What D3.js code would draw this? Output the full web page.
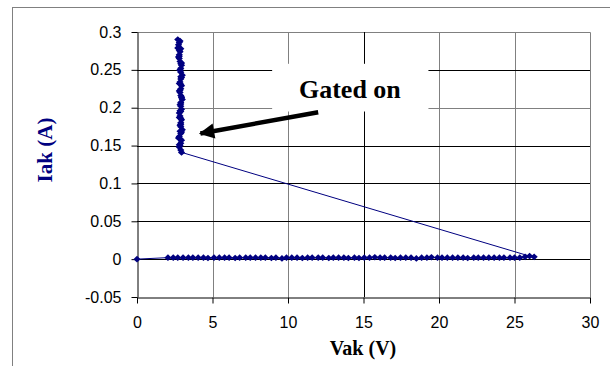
<!DOCTYPE html>
<html>
<head>
<meta charset="utf-8">
<script src="https://cdn.jsdelivr.net/npm/d3@7"></script>
<style>
  body { margin: 0; background: #fff; }
  svg { display: block; }
</style>
</head>
<body>
<svg id="chart" width="610" height="366"></svg>
<script>
// off-state sweep, then gated on (vertical cluster)
let offVak = [0, 2.05, 2.4, 2.7, 3.05, 3.4, 3.7, 4.05, 4.4, 4.7, 5.1, 5.45, 5.8, 6.1, 6.5, 6.8, 7.2, 7.5,
    7.85, 8.2, 8.5, 8.9, 9.2, 9.6, 9.9, 10.25, 10.6, 10.95, 11.3, 11.6, 12.0, 12.3, 12.7, 13.0, 13.35,
    13.7, 14.0, 14.4, 14.7, 15.05, 15.4, 15.75, 16.1, 16.4, 16.8, 17.1, 17.45, 17.8, 18.15, 18.5, 18.85,
    19.2, 19.5, 19.9, 20.2, 20.55, 20.9, 21.25, 21.6, 21.9, 22.3, 22.6, 22.95, 23.3, 23.65, 24.0, 24.3,
    24.7, 25.0, 25.35, 25.7, 26.3, 26.0];
let offIak = [0, 0.002, 0.002, 0.002, 0.002, 0.002, 0.002, 0.002, 0.002, 0.0015, 0.002, 0.002, 0.002, 0.002,
    0.0015, 0.002, 0.002, 0.002, 0.002, 0.002, 0.002, 0.0015, 0.002, 0.001, 0.002, 0.002, 0.002, 0.0015,
    0.002, 0.002, 0.002, 0.002, 0.0015, 0.002, 0.002, 0.002, 0.0015, 0.002, 0.0015, 0.002, 0.002, 0.0025,
    0.002, 0.002, 0.002, 0.0015, 0.002, 0.002, 0.002, 0.001, 0.002, 0.002, 0.0025, 0.002, 0.002, 0.002,
    0.002, 0.002, 0.002, 0.0015, 0.002, 0.002, 0.002, 0.002, 0.002, 0.002, 0.002, 0.002, 0.002, 0.002,
    0.003, 0.003, 0.004];
let onVak = [2.95, 2.9, 2.8, 2.85, 2.9, 2.95, 2.85, 2.8, 2.9, 2.95, 3.0, 2.9, 2.85, 2.9, 2.95, 2.9, 2.85,
    2.8, 2.9, 2.95, 2.9, 2.85, 2.9, 3.0, 2.95, 2.9, 2.85, 2.8, 2.9, 2.95, 2.9, 2.85, 2.9, 2.95, 3.0, 2.9,
    2.85, 2.9, 2.95, 2.9, 2.85, 2.8, 2.75, 2.8, 2.85, 2.8, 2.7, 2.75, 2.8, 2.7,
    2.85, 2.9, 2.8, 2.95, 2.85, 2.9, 2.8, 2.85, 2.95, 2.9, 2.85, 2.8, 2.9, 2.85, 2.75, 2.8];
let onIak = [0.141, 0.144, 0.148, 0.150, 0.153, 0.157, 0.159, 0.162, 0.166, 0.168, 0.171, 0.175, 0.177,
    0.180, 0.184, 0.186, 0.189, 0.193, 0.195, 0.198, 0.202, 0.204, 0.207, 0.211, 0.213, 0.216, 0.220,
    0.222, 0.225, 0.229, 0.231, 0.234, 0.238, 0.240, 0.243, 0.247, 0.249, 0.252, 0.256, 0.258, 0.261,
    0.265, 0.267, 0.270, 0.274, 0.276, 0.279, 0.283, 0.286, 0.290,
    0.288, 0.278, 0.268, 0.259, 0.250, 0.241, 0.232, 0.223, 0.214, 0.205, 0.196, 0.187, 0.178, 0.169,
    0.160, 0.151];

let xTicks = [0, 5, 10, 15, 20, 25, 30];
let yTicks = [-0.05, 0, 0.05, 0.1, 0.15, 0.2, 0.25, 0.3];

let data = offVak.map(function(v, i) { return {v: v, i: offIak[i]}; })
    .concat(onVak.map(function(v, i) { return {v: v, i: onIak[i]}; }));

let svg = d3.select("#chart"),
    pLeft = 137, pRight = 590, pTop = 32, pBottom = 297;

let x = d3.scaleLinear().domain([0, 30]).range([pLeft, pRight]),
    y = d3.scaleLinear().domain([-0.05, 0.3]).range([pBottom, pTop]);

// outer chart border
svg.append("rect")
    .attr("x", 12.5).attr("y", 7.5)
    .attr("width", 700).attr("height", 500)
    .attr("fill", "none")
    .attr("stroke", "#808080");

// plot area frame (top / right)
svg.append("path")
    .attr("d", "M" + pLeft + "," + (pTop + 0.5) + "H" + (pRight + 0.5) + "V" + pBottom)
    .attr("fill", "none")
    .attr("stroke", "#808080");

// grid lines
let greyX = [5, 10, 20, 25], greyY = [0.2];
svg.append("g").selectAll("line")
    .data(xTicks.slice(1, -1))
    .enter().append("line")
    .attr("x1", function(d) { return Math.round(x(d)) + 0.5; })
    .attr("x2", function(d) { return Math.round(x(d)) + 0.5; })
    .attr("y1", pTop).attr("y2", pBottom)
    .attr("stroke", function(d) { return greyX.includes(d) ? "#808080" : "#000"; });

svg.append("g").selectAll("line")
    .data(yTicks.slice(1, -1))
    .enter().append("line")
    .attr("x1", pLeft).attr("x2", pRight)
    .attr("y1", function(d) { return Math.round(y(d)) + 0.5; })
    .attr("y2", function(d) { return Math.round(y(d)) + 0.5; })
    .attr("stroke", function(d) { return greyY.includes(d) ? "#808080" : "#000"; });

// axes
let fmt = function(d) { return String(+d.toFixed(2)); };

let xAxis = svg.append("g")
    .attr("transform", "translate(0," + (pBottom + 0.5) + ")")
    .call(d3.axisBottom(x).tickValues(xTicks).tickSize(6).tickPadding(13).tickSizeOuter(0));

let yAxis = svg.append("g")
    .attr("transform", "translate(" + (pLeft + 0.5) + ",0)")
    .call(d3.axisLeft(y).tickValues(yTicks).tickSize(6).tickPadding(10).tickSizeOuter(0)
        .tickFormat(fmt));

[xAxis, yAxis].forEach(function(a) {
    a.selectAll("path, line").attr("stroke", "#000");
    a.selectAll("text")
        .attr("fill", "#000")
        .attr("font-family", "Arial, 'Liberation Sans', sans-serif")
        .attr("font-size", "16px");
});

// axis titles
svg.append("text")
    .attr("x", 363).attr("y", 355)
    .attr("text-anchor", "middle")
    .attr("font-family", "'Times New Roman', 'Liberation Serif', serif")
    .attr("font-weight", "bold")
    .attr("font-size", "20px")
    .attr("fill", "#000")
    .text("Vak (V)");

svg.append("text")
    .attr("transform", "translate(52,150) rotate(-90)")
    .attr("text-anchor", "middle")
    .attr("font-family", "'Times New Roman', 'Liberation Serif', serif")
    .attr("font-weight", "bold")
    .attr("font-size", "21px")
    .attr("fill", "#000080")
    .text("Iak (A)");

// data line
svg.append("path")
    .datum(data)
    .attr("fill", "none")
    .attr("stroke", "#000080")
    .attr("stroke-width", 1)
    .attr("d", d3.line()
        .x(function(d) { return x(d.v); })
        .y(function(d) { return y(d.i); }));

// diamond markers
svg.append("g").selectAll("path")
    .data(data)
    .enter().append("path")
    .attr("transform", function(d) { return "translate(" + x(d.v) + "," + y(d.i) + ")"; })
    .attr("d", "M0,-3.3L3.6,0L0,3.3L-3.6,0Z")
    .attr("fill", "#000080");

// annotation
svg.append("rect")
    .attr("x", x(8.95)).attr("y", y(0.258))
    .attr("width", x(19.3) - x(8.95))
    .attr("height", y(0.195) - y(0.258))
    .attr("fill", "#fff");

svg.append("text")
    .attr("x", x(14.1)).attr("y", y(0.213))
    .attr("text-anchor", "middle")
    .attr("font-family", "'Times New Roman', 'Liberation Serif', serif")
    .attr("font-weight", "bold")
    .attr("font-size", "26px")
    .attr("fill", "#000")
    .text("Gated on");

svg.append("defs").append("marker")
    .attr("id", "head")
    .attr("viewBox", "0 0 10 10")
    .attr("refX", 9).attr("refY", 5)
    .attr("markerWidth", 4).attr("markerHeight", 3.4)
    .attr("markerUnits", "strokeWidth")
    .attr("orient", "auto")
    .append("path")
    .attr("d", "M0,0L10,5L0,10Z")
    .attr("fill", "#000");

svg.append("line")
    .attr("x1", x(12.0)).attr("y1", y(0.194))
    .attr("x2", x(4.2)).attr("y2", y(0.166))
    .attr("stroke", "#000")
    .attr("stroke-width", 4.5)
    .attr("marker-end", "url(#head)");
</script>
</body>
</html>
